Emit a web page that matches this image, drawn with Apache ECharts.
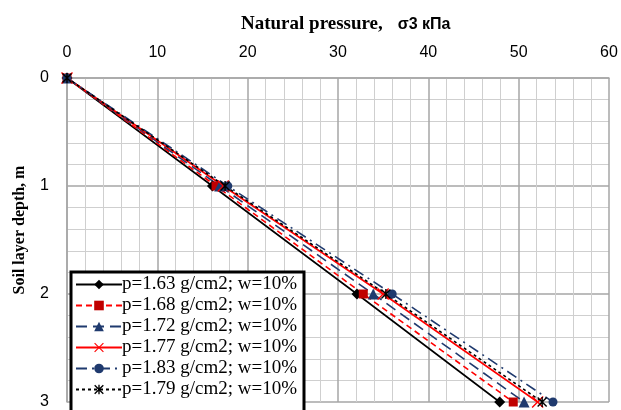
<!DOCTYPE html>
<html>
<head>
<meta charset="utf-8">
<script src="https://cdn.jsdelivr.net/npm/echarts@6/dist/echarts.min.js"></script>
<style>html,body{margin:0;padding:0;background:#fff;}#c{width:621px;height:410px;}</style>
</head>
<body>
<div id="c"></div>
<script>
const depths = [0, 1, 2, 3];
const xTicks = [0, 10, 20, 30, 40, 50, 60];
const names = [
  'p=1.63 g/cm2; w=10%',
  'p=1.68 g/cm2; w=10%',
  'p=1.72 g/cm2; w=10%',
  'p=1.77 g/cm2; w=10%',
  'p=1.83 g/cm2; w=10%',
  'p=1.79 g/cm2; w=10%'
];
const p163 = [0, 16.1, 32.1, 47.9];
const p168 = [0, 16.5, 32.8, 49.4];
const p172 = [0, 16.9, 33.9, 50.6];
const p177 = [0, 17.3, 35.0, 52.1];
const p183 = [0, 17.8, 36.0, 53.8];
const p179 = [0, 17.5, 35.3, 52.6];

const X_SYM = 'path://M1,0L6,5L11,0L12,1L7,6L12,11L11,12L6,7L1,12L0,11L5,6L0,1Z';
const STAR_SYM = 'path://M1,0L5,4L9,0L10,1L6,5L10,9L9,10L5,6L1,10L0,9L4,5L0,1Z M4.3,0L5.7,0L5.7,10L4.3,10Z';

function pairs(vals) { return vals.map((v, i) => [v, depths[i]]); }

const styles = [
  { vals: p163, line: '#000000', item: '#000000', type: 'solid', sym: 'diamond', size: 11 },
  { vals: p168, line: '#FF0000', item: '#C00000', type: [6, 4], sym: 'rect', size: 9 },
  { vals: p172, line: '#1F3A6E', item: '#1F3A6E', type: [11, 6], sym: 'triangle', size: 11 },
  { vals: p177, line: '#FF0000', item: '#FF0000', type: 'solid', sym: X_SYM, size: 12 },
  { vals: p183, line: '#1F3A6E', item: '#1F3A6E', type: [11, 5, 2, 5], sym: 'circle', size: 9 },
  { vals: p179, line: '#000000', item: '#000000', type: [3, 3], sym: STAR_SYM, size: 10 }
];

const series = styles.map((s, i) => ({
  name: names[i],
  type: 'line',
  data: pairs(s.vals),
  symbol: s.sym,
  symbolSize: s.size,
  showSymbol: true,
  lineStyle: { color: s.line, width: 1.6, type: s.type },
  itemStyle: { color: s.item, borderWidth: 0 },
  emphasis: { disabled: true },
  animation: false
}));

const chart = echarts.init(document.getElementById('c'), null, { renderer: 'canvas' });
chart.setOption({
  animation: false,
  backgroundColor: '#ffffff',
  title: {
    left: 236, top: 10,
    text: '{a|Natural pressure,}   {b|σ3 кПа}',
    textStyle: {
      rich: {
        a: { fontFamily: 'Liberation Serif', fontWeight: 'bold', fontSize: 19, color: '#000' },
        b: { fontFamily: 'Liberation Sans', fontWeight: 'bold', fontSize: 16, color: '#000' }
      }
    }
  },
  graphic: [{
    type: 'text',
    x: 20, y: 230,
    rotation: Math.PI / 2,
    style: {
      text: 'Soil layer depth, m',
      fontFamily: 'Liberation Serif', fontWeight: 'bold', fontSize: 16, fill: '#000',
      align: 'center', verticalAlign: 'middle'
    }
  }],
  grid: { left: 67, right: 12, top: 78, bottom: 2, containLabel: false },
  legend: {
    left: 71, top: 272,
    height: 200,
    orient: 'vertical',
    data: names,
    itemWidth: 46, itemHeight: 12, itemGap: 2,
    backgroundColor: '#ffffff',
    borderColor: '#000000', borderWidth: 3,
    padding: [3, 7, 16, 4],
    textStyle: { fontFamily: 'Liberation Serif', fontSize: 19, color: '#000', padding: [0, 0, 0, -5] }
  },
  xAxis: {
    type: 'value', position: 'top',
    min: 0, max: 60, interval: 10,
    axisLine: { show: true, lineStyle: { color: '#A6A6A6', width: 1.5 } },
    axisTick: { show: false },
    axisLabel: { fontFamily: 'Liberation Sans', fontSize: 16, color: '#000', margin: 17,
      formatter: v => xTicks.indexOf(v) >= 0 ? String(v) : '' },
    splitLine: { show: true, lineStyle: { color: '#A6A6A6', width: 1.5 } },
    minorTick: { show: false, splitNumber: 5 },
    minorSplitLine: { show: true, lineStyle: { color: '#CFCFCF', width: 1 } }
  },
  yAxis: {
    type: 'value', inverse: true,
    min: 0, max: 3, interval: 1,
    axisLine: { show: true, lineStyle: { color: '#A6A6A6', width: 1.5 } },
    axisTick: { show: false },
    axisLabel: { fontFamily: 'Liberation Sans', fontSize: 16, color: '#000', margin: 18 },
    splitLine: { show: true, lineStyle: { color: '#A6A6A6', width: 1.5 } },
    minorTick: { show: false, splitNumber: 5 },
    minorSplitLine: { show: true, lineStyle: { color: '#CFCFCF', width: 1 } }
  },
  series: series
});
</script>
</body>
</html>
